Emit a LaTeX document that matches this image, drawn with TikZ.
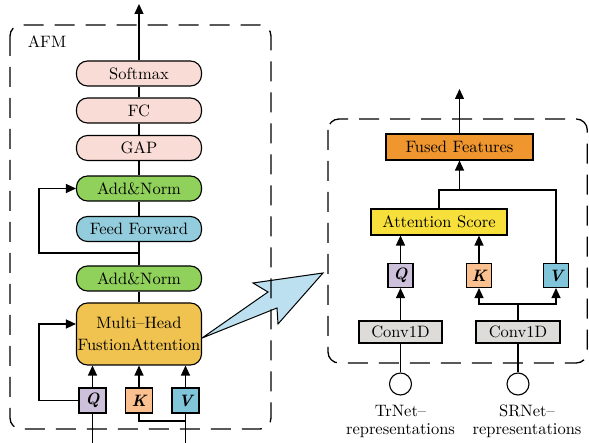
\documentclass[tikz,border=0pt]{standalone}
\usetikzlibrary{arrows.meta,backgrounds}
\font\lmbig="[lmroman10-regular.otf]" at 16.5pt
\font\lmbigbi="[lmroman10-bolditalic.otf]" at 16.5pt
\newcommand\boxfont{\lmbig\setlength{\baselineskip}{18pt}}
\newcommand\mhafont{\lmbig\setlength{\baselineskip}{22pt}}
\definecolor{pinkbox}{HTML}{F9DCD6}
\definecolor{greenbox}{HTML}{8FD15A}
\definecolor{ffblue}{HTML}{93CDDD}
\definecolor{goldbox}{HTML}{F0C350}
\definecolor{qpurple}{HTML}{CCC0DA}
\definecolor{korange}{HTML}{FAC090}
\definecolor{vblue}{HTML}{80C5DA}
\definecolor{fusedorange}{HTML}{F0962E}
\definecolor{attyellow}{HTML}{F7E03C}
\definecolor{convgray}{HTML}{DEDCD8}
\definecolor{bigarrow}{HTML}{BCE0F0}
\begin{document}
\begin{tikzpicture}[x=1pt,y=-1pt,
 every node/.style={font=\boxfont},
 blk/.style={draw,line width=1.1pt,inner sep=0pt,minimum width=125pt,minimum height=25pt,rounded corners=11pt},
 sq/.style={draw,line width=1.1pt,inner sep=0pt,minimum width=27pt,minimum height=25pt,font=\lmbigbi},
 rbox/.style={draw,line width=1.1pt,inner sep=0pt,minimum height=26pt},
 ln/.style={line width=1.3pt},
 arr/.style={line width=1.3pt,-{Triangle[length=10pt,width=9pt]}},
 frame/.style={line width=1.3pt,dash pattern=on 20pt off 11pt,rounded corners=11pt}]
\useasboundingbox (0,0) rectangle (589,443);
% left: AFM block
\node (afm) at (47,42) {AFM};
\node[blk,fill=pinkbox] (soft) at (139,73.5) {Softmax};
\node[blk,fill=pinkbox] (fc) at (139,110.5) {FC};
\node[blk,fill=pinkbox] (gap) at (139,148) {GAP};
\node[blk,fill=greenbox] (addA) at (139,188.5) {Add\&Norm};
\node[blk,fill=ffblue] (ff) at (139,229) {Feed Forward};
\node[blk,fill=greenbox] (addB) at (139,278.5) {Add\&Norm};
\node[blk,fill=goldbox,minimum height=62pt,align=center,font=\mhafont] (mha) at (139,334) {Multi–Head\\FustionAttention};
\node[sq,fill=qpurple] (q) at (92.5,400.5) {Q};
\node[sq,fill=korange] (k) at (139,400.5) {K};
\node[sq,fill=vblue] (v) at (185.5,400.5) {V};
\coordinate (outA) at (139,4);
\coordinate (ffj) at (139,253);
\coordinate (ffl) at (39,253);
\coordinate (qloop) at (39,324);
\coordinate (qin) at (92.5,443);
\coordinate (vin) at (185.5,443);
\coordinate (kj) at (185.5,421);
\draw[ln] (mha) -- (addB) -- (ff) -- (addA) -- (gap) -- (fc) -- (soft);
\draw[arr] (soft) -- (outA);
\draw[arr] (ff.south) -- (ffj) -- (ffl) |- (addA.west);
\draw[arr] (q.west) -| (qloop) -- (mha.west |- qloop);
\draw[arr] (q) -- (q |- mha.south);
\draw[arr] (k) -- (k |- mha.south);
\draw[arr] (v) -- (v |- mha.south);
\draw[ln] (q.south) -- (qin);
\draw[ln] (v.south) -- (vin);
\draw[ln] (k.south) |- (kj);
% right: fusion detail
\node[rbox,fill=fusedorange,minimum width=147pt] (fused) at (459.5,147) {Fused Features};
\node[rbox,fill=attyellow,minimum width=136pt] (att) at (439,222) {Attention Score};
\node[sq,fill=qpurple,minimum width=25pt,minimum height=24pt] (q2) at (400.5,275.5) {Q};
\node[sq,fill=korange,minimum width=25pt,minimum height=24pt] (k2) at (479,275.5) {K};
\node[sq,fill=vblue,minimum width=25pt,minimum height=24pt] (v2) at (556,275.5) {V};
\node[rbox,fill=convgray,minimum width=83pt,minimum height=22pt] (conv1) at (400.5,332) {Conv1D};
\node[rbox,fill=convgray,minimum width=84pt,minimum height=22pt] (conv2) at (518,332) {Conv1D};
\node[draw,circle,line width=1.1pt,minimum size=22pt,inner sep=0pt] (tr) at (400.5,384) {};
\node[draw,circle,line width=1.1pt,minimum size=22pt,inner sep=0pt] (sr) at (518,384) {};
\node[align=center] (trlab) at (400.5,421) {TrNet–\\representations};
\node[align=center] (srlab) at (527,421) {SRNet–\\representations};
\coordinate (outB) at (459.5,89);
\coordinate (fj) at (459.5,190);
\coordinate (cj) at (518,304);
\draw[arr] (fused) -- (outB);
\draw[ln] (att.north) |- (fj) -| (v2.north);
\draw[arr] (fj) -- (fused.south);
\draw[arr] (q2) -- (q2 |- att.south);
\draw[arr] (k2) -- (k2 |- att.south);
\draw[arr] (conv1) -- (q2);
\draw[ln] (conv2) -- (cj);
\draw[arr] (cj) -| (k2.south);
\draw[arr] (cj) -| (v2.south);
\draw[ln] (conv1) -- (tr);
\draw[ln] (conv2) -- (sr);
\begin{scope}[on background layer]
\draw[fill=bigarrow,line width=1pt,line join=miter] (mha.east |- 0,338) -- (268,292) -- (253,283) -- (323,273) -- (278,324) -- (277,308) -- cycle;
\draw[frame] (10,25) rectangle (271,429);
\draw[frame] (328,119) rectangle (587.3,363);
\end{scope}
\end{tikzpicture}
\end{document}
